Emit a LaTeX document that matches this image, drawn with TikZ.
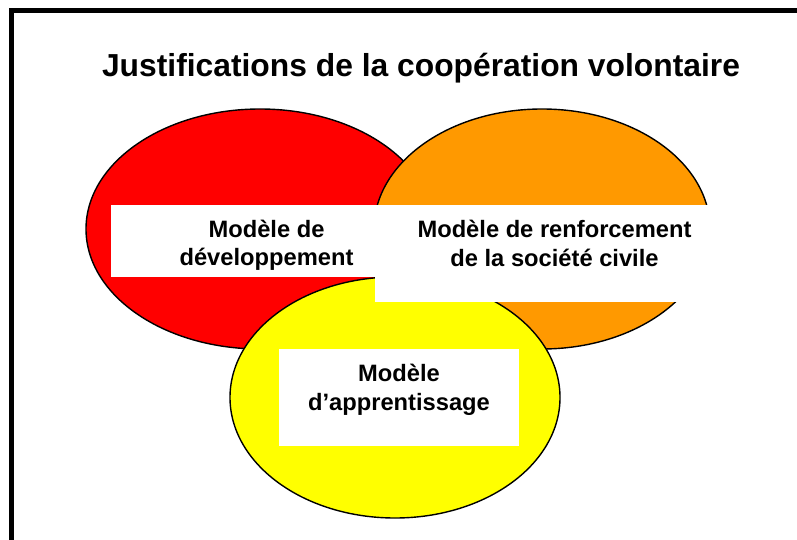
\documentclass[tikz,border=0pt]{standalone}
\usepackage{fontspec}
\setmainfont{Liberation Sans}
\usetikzlibrary{shapes.geometric}
\definecolor{vred}{HTML}{FF0000}
\definecolor{vorange}{HTML}{FF9900}
\definecolor{vyellow}{HTML}{FFFF00}
\begin{document}
\begin{tikzpicture}[x=1pt,y=-1pt,
  blob/.style={ellipse, draw=black, line width=1.4pt, inner sep=0pt, outer sep=0pt},
  whitebox/.style={fill=white, draw=none, inner sep=0pt, outer sep=0pt, anchor=north west},
  lbl/.style={font=\bfseries\fontsize{23.7}{28.5}\selectfont, align=center, inner sep=0pt},
  frame/.style={line width=5pt, line join=miter}]
\useasboundingbox (0,0) rectangle (797,540);
\clip (0,0) rectangle (797,540);
\fill[white] (0,0) rectangle (797,540);
% frame (only left and top edges are visible)
\coordinate (fbl) at (11.5,560);
\coordinate (ftl) at (11.5,10.5);
\coordinate (ftr) at (820,10.5);
\draw[frame] (fbl) -- (ftl) -- (ftr);
% title
\node[font=\bfseries\fontsize{31.8}{38}\selectfont, anchor=base, inner sep=0pt] (title) at (421,77) {Justifications de la coopération volontaire};
% ellipses
\node[blob, fill=vred, minimum width=348pt, minimum height=240pt] (dev) at (260,229) {};
\node[blob, fill=vorange, minimum width=336pt, minimum height=240pt] (soc) at (542,229) {};
\node[blob, fill=vyellow, minimum width=330pt, minimum height=241pt] (app) at (395,397.5) {};
% white text boxes
\node[whitebox, minimum width=269pt, minimum height=72pt] (devbox) at (111,205) {};
\node[whitebox, minimum width=337pt, minimum height=97pt] (socbox) at (375,205) {};
\node[whitebox, minimum width=240pt, minimum height=97pt] (appbox) at (279,349) {};
% labels
\node[lbl] (devtxt) at (266.5,245.5) {Modèle de\\développement};
\node[lbl] (soctxt) at (554.5,243.5) {Modèle de renforcement\\de la société civile};
\node[lbl] (apptxt) at (399,390) {Modèle\\d’apprentissage};
\end{tikzpicture}
\end{document}
